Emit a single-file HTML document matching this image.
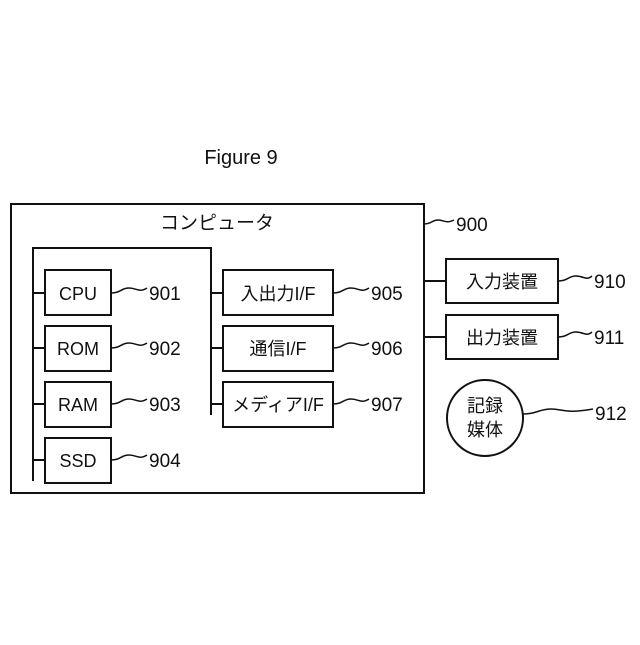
<!DOCTYPE html>
<html><head><meta charset="utf-8"><style>body{margin:0;background:#fff}</style></head><body>
<svg width="640" height="640" viewBox="0 0 640 640" xmlns="http://www.w3.org/2000/svg" font-family="Liberation Sans, Noto Sans CJK JP, sans-serif" fill="none" stroke="#111" stroke-width="2">
<text x="241" y="164" font-size="20" fill="#111" stroke="none" text-anchor="middle">Figure 9</text>
<rect x="11" y="204" width="413" height="289"/>
<text x="217" y="229" font-size="19" fill="#111" stroke="none" text-anchor="middle">コンピュータ</text>
<path d="M33 481V248H211V415"/>
<g>
<rect x="45" y="270" width="66" height="45"/><rect x="45" y="326" width="66" height="45"/><rect x="45" y="382" width="66" height="45"/><rect x="45" y="438" width="66" height="45"/>
<path d="M33 293H45M33 348H45M33 404H45M33 460H45M211 293H223M211 348H223M211 404H223M424 281H446M424 337H446"/>
<rect x="223" y="270" width="110" height="45"/><rect x="223" y="326" width="110" height="45"/><rect x="223" y="382" width="110" height="45"/>
<rect x="446" y="259" width="112" height="44"/><rect x="446" y="315" width="112" height="44"/>
<circle cx="485" cy="418" r="38"/>
</g>
<g stroke-width="1.5">
<path d="M111 293c10 0 10 -5 18 -5s10 5 18 0"/>
<path d="M111 348c10 0 10 -5 18 -5s10 5 18 0"/>
<path d="M111 404c10 0 10 -5 18 -5s10 5 18 0"/>
<path d="M111 460c10 0 10 -5 18 -5s10 5 18 0"/>
<path d="M333 293c10 0 10 -5 18 -5s10 5 18 0"/>
<path d="M333 348c10 0 10 -5 18 -5s10 5 18 0"/>
<path d="M333 404c10 0 10 -5 18 -5s10 5 18 0"/>
<path d="M424 224c8 0 8 -4 14 -4s8 4 16 0"/>
<path d="M558 281c10 0 10 -5 18 -5s10 5 16 0"/>
<path d="M558 337c10 0 10 -5 18 -5s10 5 16 0"/>
<path d="M523 414c14 0 16 -5 28 -5s14 5 42 0"/>
</g>
<g fill="#111" stroke="none" font-size="18">
<text x="78" y="300" text-anchor="middle">CPU</text>
<text x="78" y="355" text-anchor="middle">ROM</text>
<text x="78" y="411" text-anchor="middle">RAM</text>
<text x="78" y="467" text-anchor="middle">SSD</text>
<text x="278" y="300" text-anchor="middle">入出力I/F</text>
<text x="278" y="355" text-anchor="middle">通信I/F</text>
<text x="278" y="411" text-anchor="middle">メディアI/F</text>
<text x="502" y="288" text-anchor="middle">入力装置</text>
<text x="502" y="344" text-anchor="middle">出力装置</text>
<text x="485" y="412" text-anchor="middle">記録</text>
<text x="485" y="436" text-anchor="middle">媒体</text>
<g font-size="19">
<text x="149" y="300">901</text><text x="149" y="355">902</text><text x="149" y="411">903</text><text x="149" y="467">904</text>
<text x="371" y="300">905</text><text x="371" y="355">906</text><text x="371" y="411">907</text>
<text x="456" y="231">900</text><text x="594" y="288">910</text><text x="594" y="344">911</text><text x="595" y="420">912</text>
</g></g>
</svg>
</body></html>
